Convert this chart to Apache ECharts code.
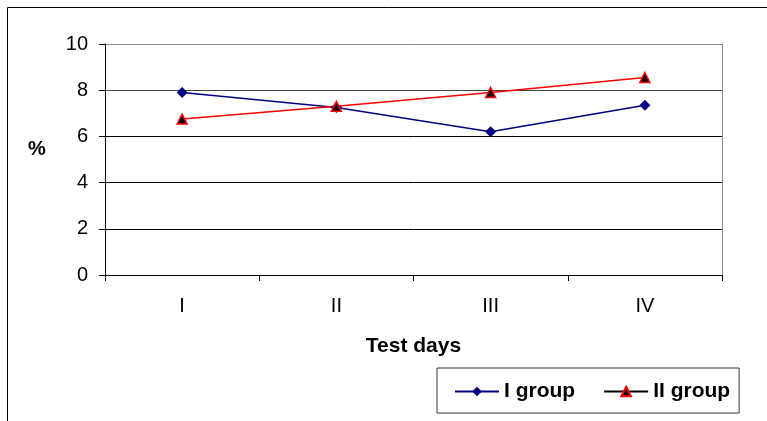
<!DOCTYPE html>
<html>
<head>
<meta charset="utf-8">
<script src="https://cdn.jsdelivr.net/npm/echarts@6/dist/echarts.min.js"></script>
<style>
html,body{margin:0;padding:0;background:#fff;}
#c{width:767px;height:421px;}
</style>
</head>
<body>
<div id="c"></div>
<script>
const categories = ['I', 'II', 'III', 'IV'];
const groupI = [7.9, 7.25, 6.2, 7.35];
const groupII = [6.75, 7.3, 7.9, 8.55];
const seriesNames = ['I group', 'II group'];
const yTicks = [0, 2, 4, 6, 8, 10];

const FONT = '"Liberation Sans", Arial, sans-serif';
const chart = echarts.init(document.getElementById('c'), null, {renderer: 'canvas'});
chart.setOption({
  animation: false,
  backgroundColor: '#fff',
  textStyle: {fontFamily: FONT, color: '#000'},
  graphic: [
    {type: 'rect', shape: {x: 7.5, y: 7.5, width: 900, height: 600}, style: {fill: 'none', stroke: '#000', lineWidth: 1}, silent: true, z: -1},
    {type: 'text', x: 37, y: 149, style: {text: '%', font: 'bold 20px ' + FONT, fill: '#000', align: 'center', verticalAlign: 'middle'}}
  ],
  grid: {left: 105, right: 45, top: 44, bottom: 146, containLabel: false},
  legend: {
    left: 437, top: 368,
    padding: [13, 9, 11, 17],
    itemGap: 28,
    itemWidth: 44, itemHeight: 12,
    borderColor: '#333', borderWidth: 1,
    backgroundColor: '#fff',
    textStyle: {fontFamily: FONT, fontSize: 21, fontWeight: 'bold', color: '#000'},
    data: [
      {name: seriesNames[0]},
      {name: seriesNames[1], lineStyle: {color: '#000'}}
    ]
  },
  xAxis: {
    type: 'category',
    data: categories,
    boundaryGap: true,
    name: 'Test days',
    nameLocation: 'middle',
    nameGap: 61,
    nameTextStyle: {fontSize: 21, fontWeight: 'bold', color: '#000', fontFamily: FONT},
    axisLine: {lineStyle: {color: '#000', width: 1}},
    axisTick: {show: true, length: 6, lineStyle: {color: '#000'}},
    axisLabel: {fontSize: 20, color: '#000', margin: 21, fontFamily: FONT},
    splitLine: {show: false}
  },
  yAxis: [
    {
      type: 'value', min: yTicks[0], max: yTicks[yTicks.length - 1], interval: 2,
      axisLine: {show: true, lineStyle: {color: '#000', width: 1}},
      axisTick: {show: true, length: 6, lineStyle: {color: '#000'}},
      axisLabel: {fontSize: 20, color: '#000', margin: 17, fontFamily: FONT},
      splitLine: {show: true, lineStyle: {color: ['#000', '#000', '#000', '#000', '#444', '#888'], width: 1}}
    },
    {
      type: 'value', min: yTicks[0], max: yTicks[yTicks.length - 1], interval: 2, position: 'right',
      axisLine: {show: true, lineStyle: {color: '#888', width: 1}},
      axisTick: {show: false}, axisLabel: {show: false}, splitLine: {show: false}
    }
  ],
  series: [
    {
      name: seriesNames[0], type: 'line', data: groupI,
      symbol: 'diamond', symbolSize: [11, 11],
      lineStyle: {color: '#000080', width: 1.5},
      itemStyle: {color: '#000080', borderColor: '#000080', borderWidth: 0}
    },
    {
      name: seriesNames[1], type: 'line', data: groupII,
      symbol: 'triangle', symbolSize: [10, 10],
      lineStyle: {color: '#ff0000', width: 1.5},
      itemStyle: {color: '#000', borderColor: '#ff0000', borderWidth: 1.5}
    }
  ]
});
</script>
</body>
</html>
